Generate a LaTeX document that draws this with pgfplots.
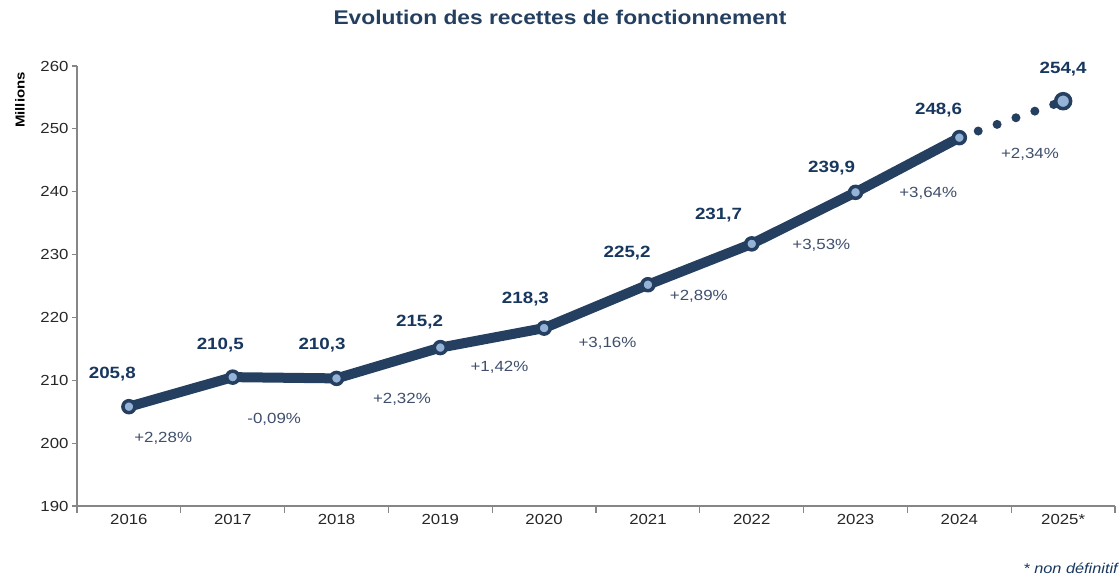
\documentclass[border=0pt]{standalone}
\usepackage{fontspec}
\setmainfont[FakeStretch=1.15]{Liberation Sans}
\usepackage{pgfplots}
\pgfplotsset{compat=1.18}
\definecolor{navy}{RGB}{36,63,96}
\definecolor{lblue}{RGB}{149,179,215}
\definecolor{vallab}{RGB}{23,55,94}
\definecolor{pctlab}{RGB}{62,78,108}
\definecolor{axgray}{RGB}{134,134,134}
\definecolor{ticktxt}{RGB}{38,38,38}

\begin{document}
\begin{tikzpicture}[x=1pt,y=1pt]
\useasboundingbox (-77,-74) rectangle (1043,506);
\begin{axis}[
    at={(0,0)}, anchor=south west,
    scale only axis, width=1038pt, height=440pt,
    xmin=-0.5, xmax=9.5, ymin=190, ymax=260,
    axis x line=bottom, axis y line=left,
    axis line style={-, axgray, line width=1.2pt},
    tick style={axgray, line width=1.2pt},
    tick align=outside,
    ytick={190,200,...,260},
    xtick={0,...,9},
    xticklabels={2016,2017,2018,2019,2020,2021,2022,2023,2024,2025*},
    major x tick style={draw=none},
    minor xtick={-0.5,0.5,...,9.5},
    minor tick length=7pt,
    major tick length=5pt,
    tick label style={font=\fontsize{14.6}{16}\selectfont, text=ticktxt},
    /pgf/number format/assume math mode=true,
    clip=false,
]
\addplot[navy, line width=9pt, line cap=round, dash pattern=on 0pt off 20pt]
    coordinates {(8,248.6) (9,254.4)};
\addplot[navy, line width=10pt, line join=round, mark=*, mark size=6pt,
    mark options={fill=lblue, draw=navy, line width=3.5pt}]
    coordinates {(0,205.8) (1,210.5) (2,210.3) (3,215.2) (4,218.3) (5,225.2) (6,231.7) (7,239.9) (8,248.6)};
\addplot[only marks, mark=*, mark size=7.5pt,
    mark options={fill=lblue, draw=navy, line width=3.5pt}]
    coordinates {(9,254.4)};

\begin{scope}[every node/.style={font=\bfseries\fontsize{16.3}{18}\selectfont, text=vallab}]
\node at (axis cs:-0.16,211.0) {205,8};
\node at (axis cs:0.88,215.6) {210,5};
\node at (axis cs:1.86,215.6) {210,3};
\node at (axis cs:2.80,219.3) {215,2};
\node at (axis cs:3.82,222.9) {218,3};
\node at (axis cs:4.80,230.3) {225,2};
\node at (axis cs:5.68,236.3) {231,7};
\node at (axis cs:6.77,243.8) {239,9};
\node at (axis cs:7.80,253.0) {248,6};
\node at (axis cs:9.0,259.5) {254,4};
\end{scope}
\begin{scope}[every node/.style={font=\fontsize{14.7}{16}\selectfont, text=pctlab}]
\node at (axis cs:0.33,200.8) {+2,28\%};
\node at (axis cs:1.40,203.8) {-0,09\%};
\node at (axis cs:2.63,207.0) {+2,32\%};
\node at (axis cs:3.57,212.1) {+1,42\%};
\node at (axis cs:4.61,215.9) {+3,16\%};
\node at (axis cs:5.49,223.3) {+2,89\%};
\node at (axis cs:6.67,231.5) {+3,53\%};
\node at (axis cs:7.70,239.8) {+3,64\%};
\node at (axis cs:8.68,246.0) {+2,34\%};
\end{scope}
\end{axis}
\node[rotate=90, font=\bfseries\fontsize{13}{15}\selectfont, text=black] at (-57,406) {Millions};
\node[font=\bfseries\fontsize{19.8}{22}\selectfont, text=navy] at (483,489) {Evolution des recettes de fonctionnement};
\node[anchor=east, font=\itshape\fontsize{14.2}{16}\selectfont, text=vallab, inner sep=1pt] at (1042,-62) {* non définitif};
\end{tikzpicture}
\end{document}
